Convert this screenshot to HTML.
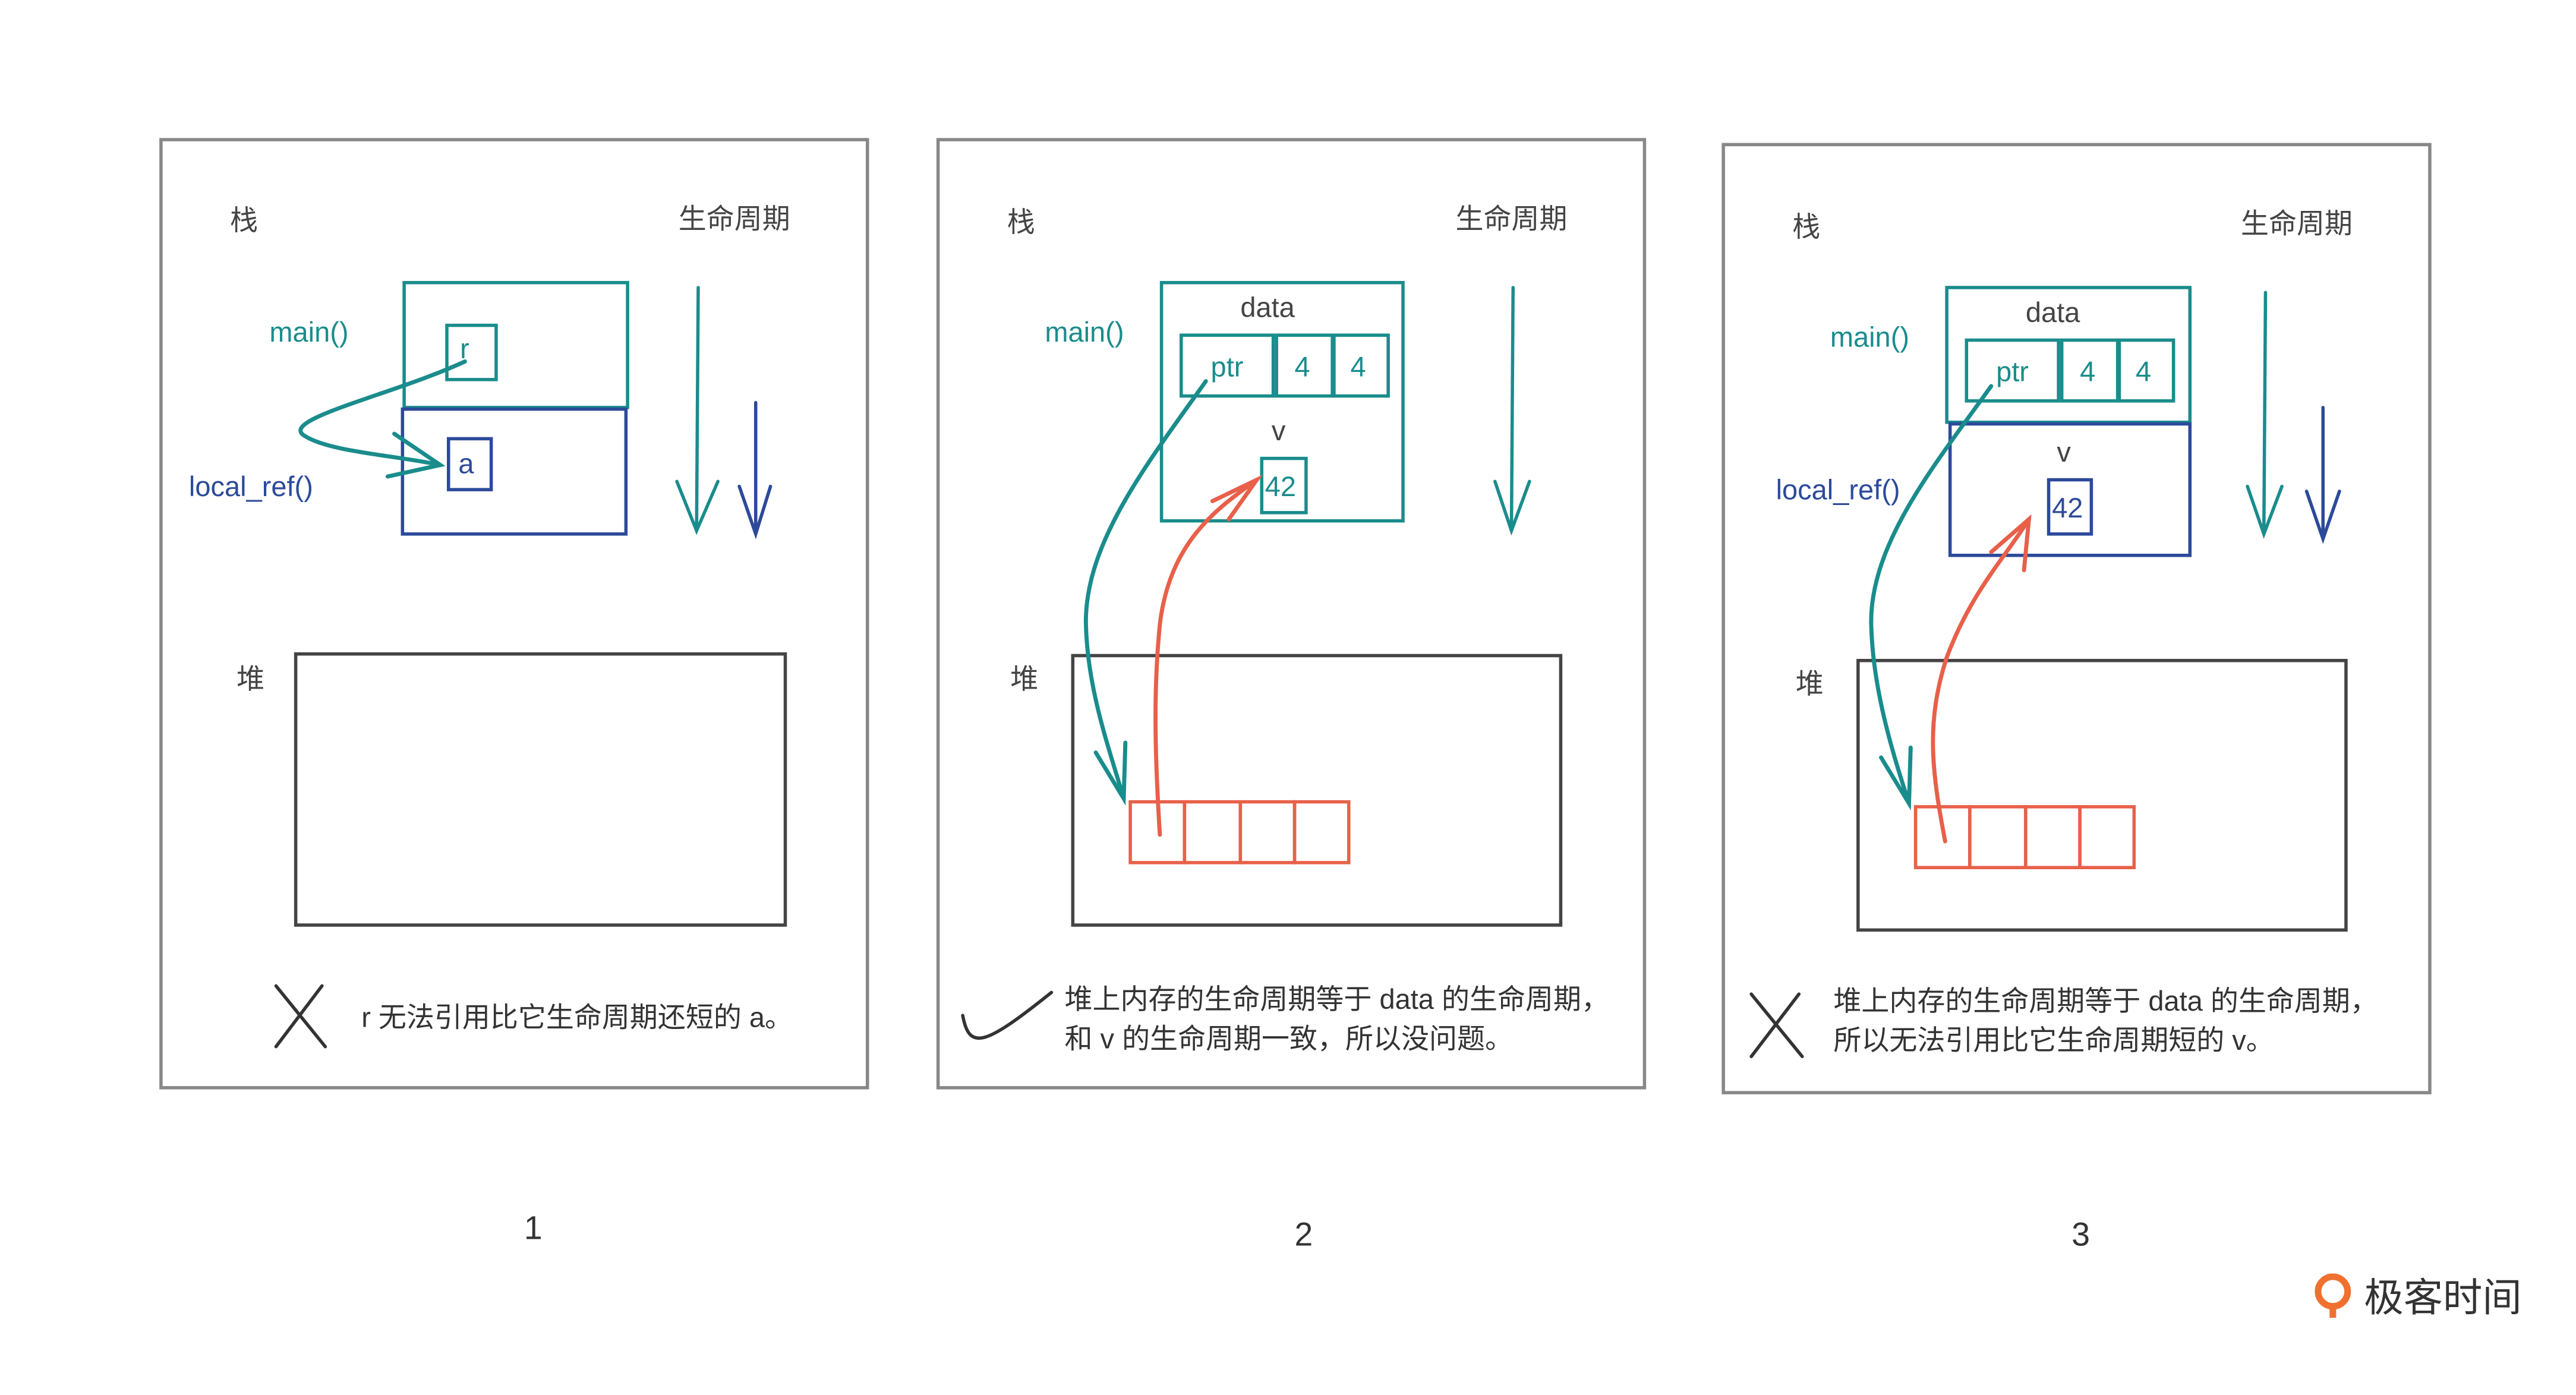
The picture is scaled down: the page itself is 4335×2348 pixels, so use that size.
<!DOCTYPE html>
<html><head><meta charset="utf-8"><style>
html,body{margin:0;padding:0;background:#fff;}
svg{display:block;}
text{font-family:"Liberation Sans","Noto Sans CJK SC",sans-serif;}
</style></head><body>
<svg width="4335" height="2348" viewBox="0 0 1568 849" preserveAspectRatio="none" xmlns="http://www.w3.org/2000/svg">
<rect width="1570" height="850" fill="#fff"/>
<g fill="none" stroke-linecap="round">
<rect x="98" y="85" width="430" height="577" stroke="#888" stroke-width="2"/>
<rect x="571" y="85" width="430" height="577" stroke="#888" stroke-width="2"/>
<rect x="1049" y="88" width="430" height="577" stroke="#888" stroke-width="2"/>

<rect x="246" y="172" width="136" height="76" stroke="#1a8c8c" stroke-width="2"/>
<rect x="272" y="198" width="30" height="33" stroke="#1a8c8c" stroke-width="2"/>
<rect x="245" y="249" width="136" height="76" stroke="#2c4a9a" stroke-width="2"/>
<rect x="273" y="267" width="26" height="31" stroke="#2c4a9a" stroke-width="2"/>
<path d="M283,220 C240,240 170,255 185,265 C200,275 240,277 268,283" stroke="#1a8c8c" stroke-width="2.5"/>
<path d="M240,264 L268,283 L236,290" stroke="#1a8c8c" stroke-width="2.5"/>
<path d="M425,175 L424,323 M412,293 L424,323 L437,293" stroke="#1a8c8c" stroke-width="2"/>
<path d="M460,245 L460,325 M450,296 L460,325 L469,296" stroke="#2c4a9a" stroke-width="2"/>
<rect x="180" y="398" width="298" height="165" stroke="#444" stroke-width="2"/>
<path d="M168,600 L198,637 M196,600 L168,637" stroke="#333" stroke-width="2"/>

<rect x="707" y="172" width="147" height="145" stroke="#1a8c8c" stroke-width="2"/>
<rect x="719" y="204" width="56" height="37" stroke="#1a8c8c" stroke-width="2"/>
<rect x="777" y="204" width="34" height="37" stroke="#1a8c8c" stroke-width="2"/>
<rect x="812" y="204" width="33" height="37" stroke="#1a8c8c" stroke-width="2"/>
<rect x="768" y="279" width="27" height="33" stroke="#1a8c8c" stroke-width="2"/>
<path d="M921,175 L920,323 M910,293 L920,323 L931,293" stroke="#1a8c8c" stroke-width="2"/>
<rect x="653" y="399" width="297" height="164" stroke="#444" stroke-width="2"/>
<g stroke="#e8604a" stroke-width="2"><rect x="688" y="488" width="33" height="37"/><rect x="721" y="488" width="34" height="37"/><rect x="755" y="488" width="33" height="37"/><rect x="788" y="488" width="33" height="37"/></g>
<path d="M734,232 C700,280 660,330 661,380 C662,420 675,455 684,486" stroke="#1a8c8c" stroke-width="2.5"/>
<path d="M667,458 L684,486 L685,452" stroke="#1a8c8c" stroke-width="2.5"/>
<path d="M706,508 C703,460 702,420 706,380 C712,330 740,310 765,292" stroke="#e8604a" stroke-width="2.5"/>
<path d="M738,305 L765,292 L748,316" stroke="#e8604a" stroke-width="2.5"/>
<path d="M586,618 C590,640 600,636 640,604" stroke="#333" stroke-width="2"/>

<rect x="1185" y="175" width="148" height="82" stroke="#1a8c8c" stroke-width="2"/>
<rect x="1197" y="207" width="56" height="37" stroke="#1a8c8c" stroke-width="2"/>
<rect x="1255" y="207" width="34" height="37" stroke="#1a8c8c" stroke-width="2"/>
<rect x="1290" y="207" width="33" height="37" stroke="#1a8c8c" stroke-width="2"/>
<rect x="1187" y="258" width="146" height="80" stroke="#2c4a9a" stroke-width="2"/>
<rect x="1247" y="292" width="26" height="33" stroke="#2c4a9a" stroke-width="2"/>
<path d="M1379,178 L1378,325 M1368,296 L1378,325 L1389,296" stroke="#1a8c8c" stroke-width="2"/>
<path d="M1414,248 L1414,328 M1404,299 L1414,328 L1424,299" stroke="#2c4a9a" stroke-width="2"/>
<rect x="1131" y="402" width="297" height="164" stroke="#444" stroke-width="2"/>
<g stroke="#e8604a" stroke-width="2"><rect x="1166" y="491" width="33" height="37"/><rect x="1199" y="491" width="34" height="37"/><rect x="1233" y="491" width="33" height="37"/><rect x="1266" y="491" width="33" height="37"/></g>
<path d="M1212,235 C1180,280 1138,330 1139,380 C1140,420 1152,458 1162,489" stroke="#1a8c8c" stroke-width="2.5"/>
<path d="M1145,461 L1162,489 L1163,455" stroke="#1a8c8c" stroke-width="2.5"/>
<path d="M1184,512 C1176,470 1172,440 1185,400 C1200,360 1220,340 1235,316" stroke="#e8604a" stroke-width="2.5"/>
<path d="M1212,336 L1235,316 L1232,347" stroke="#e8604a" stroke-width="2.5"/>
<path d="M1066,605 L1097,643 M1095,605 L1066,643" stroke="#333" stroke-width="2"/>
</g>

<g font-size="17" fill="#444">
<text x="140" y="140">栈</text>
<text x="413" y="139">生命周期</text>
<text x="144" y="419">堆</text>
<text x="613" y="141">栈</text>
<text x="886" y="139">生命周期</text>
<text x="615" y="419">堆</text>
<text x="1091" y="144">栈</text>
<text x="1364" y="142">生命周期</text>
<text x="1093" y="422">堆</text>
</g>
<g font-size="17">
<text x="164" y="208" fill="#1a8c8c">main()</text>
<text x="280" y="218" fill="#1a8c8c">r</text>
<text x="115" y="302" fill="#2c4a9a">local_ref()</text>
<text x="279" y="288" fill="#2c4a9a">a</text>
<text x="636" y="208" fill="#1a8c8c">main()</text>
<text x="755" y="193" fill="#444">data</text>
<text x="737" y="229" fill="#1a8c8c">ptr</text>
<text x="788" y="229" fill="#1a8c8c">4</text>
<text x="822" y="229" fill="#1a8c8c">4</text>
<text x="774" y="268" fill="#444">v</text>
<text x="770" y="302" fill="#1a8c8c">42</text>
<text x="1114" y="211" fill="#1a8c8c">main()</text>
<text x="1233" y="196" fill="#444">data</text>
<text x="1215" y="232" fill="#1a8c8c">ptr</text>
<text x="1266" y="232" fill="#1a8c8c">4</text>
<text x="1300" y="232" fill="#1a8c8c">4</text>
<text x="1081" y="304" fill="#2c4a9a">local_ref()</text>
<text x="1252" y="281" fill="#444">v</text>
<text x="1249" y="315" fill="#2c4a9a">42</text>
</g>
<g font-size="17" fill="#333">
<text x="220" y="625">r 无法引用比它生命周期还短的 a。</text>
<text x="648" y="614">堆上内存的生命周期等于 data 的生命周期，</text>
<text x="648" y="638">和 v 的生命周期一致，所以没问题。</text>
<text x="1116" y="615">堆上内存的生命周期等于 data 的生命周期，</text>
<text x="1116" y="639">所以无法引用比它生命周期短的 v。</text>
</g>
<g font-size="20" fill="#333">
<text x="319" y="754">1</text>
<text x="788" y="758">2</text>
<text x="1261" y="758">3</text>
</g>
<circle cx="1420" cy="786" r="9" fill="none" stroke="#f07030" stroke-width="4"/>
<path d="M1420,795 L1420,802" stroke="#f07030" stroke-width="4"/>
<text x="1439" y="798" font-size="24" fill="#333">极客时间</text>
</svg>
</body></html>
